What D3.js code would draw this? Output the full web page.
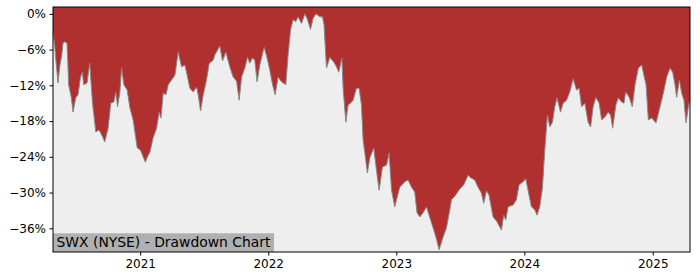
<!DOCTYPE html>
<html>
<head>
<meta charset="utf-8">
<script src="https://cdn.jsdelivr.net/npm/d3@7"></script>
<style>
  body { margin: 0; background: #ffffff; }
  .tick text { font-family: "DejaVu Sans", sans-serif; font-size: 12px; fill: #000000; }
  .tick line { stroke: #000000; }
</style>
</head>
<body>
<div id="chart"></div>
<script>
// Chart data: date as decimal year, drawdown in percent
var dateYears = [
    2020.321, 2020.334, 2020.342, 2020.360, 2020.373, 2020.389, 2020.399, 2020.412, 2020.430, 2020.436,
    2020.443, 2020.464, 2020.477, 2020.498, 2020.516, 2020.535, 2020.550, 2020.560, 2020.586, 2020.607,
    2020.628, 2020.654, 2020.680, 2020.711, 2020.724, 2020.750, 2020.771, 2020.795, 2020.810, 2020.824,
    2020.842, 2020.855, 2020.873, 2020.899, 2020.920, 2020.945, 2020.977, 2021.003, 2021.023, 2021.041,
    2021.052, 2021.076, 2021.101, 2021.128, 2021.148, 2021.162, 2021.180, 2021.201, 2021.219, 2021.245,
    2021.271, 2021.297, 2021.323, 2021.349, 2021.367, 2021.388, 2021.414, 2021.440, 2021.453, 2021.472,
    2021.492, 2021.518, 2021.539, 2021.570, 2021.583, 2021.622, 2021.643, 2021.669, 2021.700, 2021.726,
    2021.753, 2021.773, 2021.792, 2021.817, 2021.838, 2021.856, 2021.877, 2021.895, 2021.913, 2021.934,
    2021.968, 2021.991, 2022.012, 2022.034, 2022.054, 2022.077, 2022.104, 2022.137, 2022.155, 2022.174,
    2022.194, 2022.215, 2022.233, 2022.260, 2022.286, 2022.304, 2022.330, 2022.350, 2022.372, 2022.403,
    2022.424, 2022.436, 2022.455, 2022.481, 2022.512, 2022.533, 2022.551, 2022.575, 2022.585, 2022.606,
    2022.624, 2022.642, 2022.663, 2022.689, 2022.710, 2022.728, 2022.741, 2022.767, 2022.774, 2022.793,
    2022.824, 2022.845, 2022.866, 2022.892, 2022.924, 2022.944, 2022.963, 2022.988, 2023.027, 2023.066,
    2023.092, 2023.119, 2023.144, 2023.162, 2023.183, 2023.209, 2023.236, 2023.261, 2023.287, 2023.314,
    2023.334, 2023.365, 2023.392, 2023.418, 2023.431, 2023.457, 2023.496, 2023.527, 2023.560, 2023.587,
    2023.613, 2023.639, 2023.665, 2023.683, 2023.704, 2023.724, 2023.756, 2023.787, 2023.821, 2023.839,
    2023.855, 2023.873, 2023.912, 2023.938, 2023.959, 2023.990, 2024.011, 2024.029, 2024.055, 2024.081,
    2024.099, 2024.120, 2024.141, 2024.159, 2024.180, 2024.198, 2024.219, 2024.237, 2024.255, 2024.282,
    2024.302, 2024.329, 2024.354, 2024.380, 2024.407, 2024.427, 2024.446, 2024.471, 2024.497, 2024.516,
    2024.536, 2024.557, 2024.583, 2024.602, 2024.628, 2024.653, 2024.672, 2024.688, 2024.713, 2024.731,
    2024.758, 2024.776, 2024.789, 2024.817, 2024.841, 2024.862, 2024.888, 2024.914, 2024.934, 2024.948,
    2024.966, 2024.992, 2025.026, 2025.057, 2025.088, 2025.109, 2025.135, 2025.156, 2025.174, 2025.187,
    2025.208, 2025.226, 2025.244, 2025.260, 2025.278, 2025.291
];

var drawdown = [
    -3.1, -5.2, -7.4, -11.6, -8.9, -6.9, -4.9, -4.7, -4.9, -7.8,
    -11.9, -14.1, -16.5, -14.1, -13.6, -10.6, -9.8, -11.9, -11.6, -8.3,
    -14.8, -19.8, -19.5, -20.8, -21.5, -19.2, -15.0, -14.8, -13.1, -15.6,
    -13.1, -9.1, -11.9, -12.8, -15.8, -17.8, -22.5, -22.9, -24.0, -24.9,
    -24.2, -23.2, -20.8, -19.2, -16.5, -17.5, -13.3, -13.6, -11.9, -11.1,
    -10.3, -6.4, -8.9, -8.6, -10.3, -12.5, -13.1, -12.3, -13.6, -16.3,
    -13.6, -11.1, -8.3, -7.8, -6.9, -5.4, -7.9, -6.4, -8.9, -10.6,
    -11.3, -14.5, -10.6, -9.1, -7.3, -8.3, -7.4, -7.8, -11.4, -8.6,
    -5.6, -7.4, -9.4, -11.9, -13.6, -10.6, -11.4, -11.9, -6.9, -2.7,
    -1.0, -1.3, -0.5, -1.6, 0.0, -0.8, -2.6, -0.8, 0.0, -0.5,
    -0.5, -1.9, -9.1, -7.3, -8.1, -8.9, -9.8, -7.4, -12.5, -18.2,
    -15.3, -15.0, -14.5, -12.5, -12.5, -15.3, -21.2, -25.4, -26.7, -24.2,
    -22.5, -26.2, -29.6, -25.7, -25.4, -23.4, -29.6, -32.4, -29.1, -28.2,
    -27.9, -29.1, -29.9, -33.4, -34.1, -33.4, -32.4, -34.1, -35.9, -37.8,
    -39.6, -37.5, -35.9, -32.9, -31.2, -30.6, -29.4, -28.7, -27.1, -27.6,
    -27.9, -29.1, -30.1, -31.8, -29.7, -30.4, -34.1, -34.9, -36.3, -33.8,
    -34.6, -32.4, -32.1, -31.2, -28.7, -28.2, -27.7, -29.6, -32.4, -32.9,
    -33.8, -32.4, -29.2, -22.9, -17.0, -19.0, -18.2, -15.6, -14.1, -16.5,
    -15.0, -14.5, -13.1, -10.9, -12.8, -12.5, -15.6, -15.0, -18.2, -19.0,
    -15.6, -14.0, -15.0, -17.8, -17.3, -16.5, -17.0, -19.2, -15.3, -14.1,
    -14.8, -15.0, -13.1, -14.0, -15.6, -11.9, -9.1, -8.6, -10.6, -11.9,
    -17.8, -17.5, -18.3, -15.6, -12.8, -10.6, -9.1, -9.8, -11.9, -14.0,
    -11.1, -13.3, -14.5, -18.3, -15.6, -14.5
];

var yTickValues = [0, -6, -12, -18, -24, -30, -36];
var chartTitle = "SWX (NYSE) - Drawdown Chart";

// Define SVG area dimensions
var svgWidth = 700;
var svgHeight = 280;

var chartMargin = {
    top: 7,
    right: 10,
    bottom: 28,
    left: 53
};

var width = svgWidth - chartMargin.left - chartMargin.right;
var height = svgHeight - chartMargin.top - chartMargin.bottom;

// decimal year -> Date
function yearToDate(y) {
    var yr = Math.floor(y);
    var start = new Date(yr, 0, 1);
    var end = new Date(yr + 1, 0, 1);
    return new Date(+start + (y - yr) * (end - start));
}

var data = dateYears.map(function(y, i) {
    return { date: yearToDate(y), value: drawdown[i] };
});

var svg = d3.select("#chart")
    .append("svg")
    .attr("width", svgWidth)
    .attr("height", svgHeight);

var chartGroup = svg.append("g")
    .attr("transform", `translate(${chartMargin.left}, ${chartMargin.top})`);

// Scales
var xTimeScale = d3.scaleTime()
    .domain(d3.extent(data, d => d.date))
    .range([0, width]);

var yLinearScale = d3.scaleLinear()
    .domain([-39.98, 1.15])
    .range([height, 0]);

// Plot background
chartGroup.append("rect")
    .attr("width", width)
    .attr("height", height)
    .attr("fill", "#eeeeee");

// Red area from the top of the plot down to the drawdown line
var area = d3.area()
    .x(d => xTimeScale(d.date))
    .y0(0)
    .y1(d => yLinearScale(d.value));

chartGroup.append("path")
    .datum(data)
    .attr("d", area)
    .attr("fill", "#b03030");

var line = d3.line()
    .x(d => xTimeScale(d.date))
    .y(d => yLinearScale(d.value));

chartGroup.append("path")
    .datum(data)
    .attr("d", line)
    .attr("fill", "none")
    .attr("stroke", "#888888")
    .attr("stroke-width", 1);

// Axes
var xAxis = d3.axisBottom(xTimeScale)
    .ticks(d3.timeYear.every(1))
    .tickFormat(d3.timeFormat("%Y"))
    .tickSize(3.5)
    .tickPadding(3.5);

var yAxis = d3.axisLeft(yLinearScale)
    .tickValues(yTickValues)
    .tickFormat(d => (d < 0 ? "\u2212" + (-d) : d) + "%")
    .tickSize(3.5)
    .tickPadding(3.5);

chartGroup.append("g")
    .attr("transform", `translate(0, ${height})`)
    .call(xAxis)
    .call(g => g.select(".domain").remove());

chartGroup.append("g")
    .call(yAxis)
    .call(g => g.select(".domain").remove());

// Title box in the lower left corner
var titleBox = chartGroup.append("rect")
    .attr("x", 0)
    .attr("y", height - 18.7)
    .attr("height", 18.7)
    .attr("fill", "#b0b0b0");

var titleText = chartGroup.append("text")
    .attr("x", 3.5)
    .attr("y", height - 5)
    .attr("font-family", "DejaVu Sans, sans-serif")
    .attr("font-size", "13.9px")
    .attr("fill", "#000000")
    .text(chartTitle);

var tb = titleText.node().getBBox();
titleBox.attr("width", tb.width + 6.5);

// Spines
chartGroup.append("rect")
    .attr("width", width)
    .attr("height", height)
    .attr("fill", "none")
    .attr("stroke", "#000000")
    .attr("stroke-width", 1);
</script>
</body>
</html>
